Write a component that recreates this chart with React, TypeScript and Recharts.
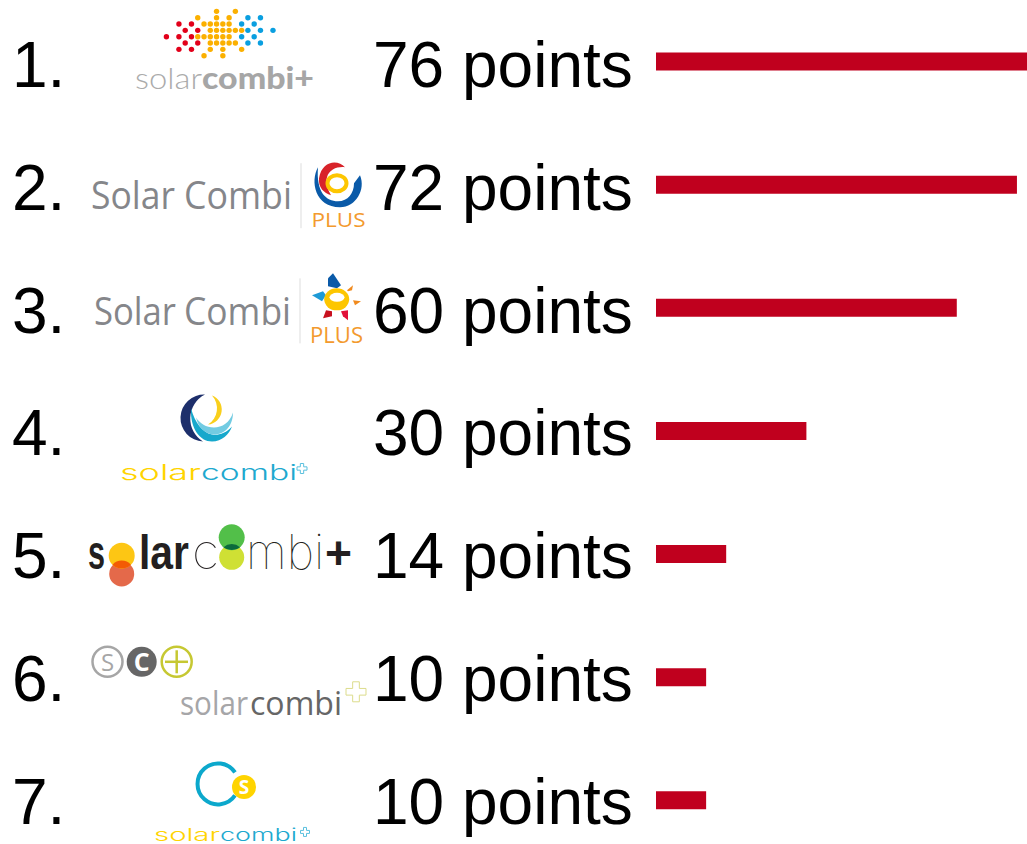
import { BarChart, Bar, XAxis, YAxis } from "recharts";

const ranks = ["1.", "2.", "3.", "4.", "5.", "6.", "7."];
const points = [76, 72, 60, 30, 14, 10, 10];
const rows = ranks.map((rank, i) => ({ rank, points: points[i] }));

const BAR_COLOR = "#c0001e";
const LABEL_FONT = '"Liberation Sans", Arial, sans-serif';

// dot matrix of the first logo, r = red, o = orange, b = blue
const dotRows = [
  "........o..o......",
  ".....o..o.o..b.b..",
  "..r.r.ooooo.b.b...",
  "...r.r.oooooob.b.b",
  "r.r.roooooo.b.b...",
  "...r.r.ooooo.b.b..",
  "..r.r..o.o..o.....",
  "......o..o........",
];
const dotColors: Record<string, string> = { r: "#e2001a", o: "#fbb000", b: "#0a9fe0" };

function OutlinePlus({ x, y, s, color }: { x: number; y: number; s: number; color: string }) {
  const t = s / 3;
  const d = `M${x - t} ${y - s}h${2 * t}v${s - t}h${s - t}v${2 * t}h${t - s}v${s - t}h${-2 * t}v${t - s}h${t - s}v${-2 * t}h${s - t}z`;
  return <path d={d} fill="none" stroke={color} strokeWidth={1} />;
}

function Logo1() {
  return (
    <g>
      {dotRows.map((row, r) =>
        row.split("").map((c, col) =>
          c === "." ? null : (
            <circle key={`${r}-${col}`} cx={166.4 + col * 6.27} cy={-49.7 + r * 6.33} r={2.7} fill={dotColors[c]} />
          )
        )
      )}
      <text x={135} y={28} fontFamily="Lato" fontWeight={300} fontSize={30} fill="#ababab" textLength={67} lengthAdjust="spacingAndGlyphs">solar</text>
      <text x={202} y={28} fontFamily="Lato" fontWeight={900} fontSize={30} fill="#a6a6a6" textLength={112} lengthAdjust="spacingAndGlyphs">combi+</text>
    </g>
  );
}

function SolarCombiWords({ y, x1, w1, x2, w2 }: { y: number; x1: number; w1: number; x2: number; w2: number }) {
  return (
    <g fontFamily="Open Sans" fontSize={38} fill="#85868a">
      <text x={x1} y={y} textLength={w1} lengthAdjust="spacingAndGlyphs">Solar</text>
      <text x={x2} y={y} textLength={w2} lengthAdjust="spacingAndGlyphs">Combi</text>
    </g>
  );
}

function Logo2() {
  return (
    <g>
      <SolarCombiWords y={25} x1={91} w1={84} x2={184} w2={108} />
      <line x1={301} x2={301} y1={-21} y2={44} stroke="#dddddd" strokeWidth={1} />
      <path d="M318 -17C310 -3 315 23 340 23C356 23 366 5 360 -9L354 -1C354 9 348 17 338 17C326 17 316 8 318 -17z" fill="#0a5aa8" />
      <path d="M345 -17C338 -25 322 -24 319 -6C318 3 324 9 331 11C328 5 325 0 327 -7C329 -15 338 -18 345 -17z" fill="#d8232a" />
      <ellipse cx={337} cy={-1} rx={9.5} ry={8} fill="#ffffff" stroke="#fdc600" strokeWidth={4} />
      <text x={311.5} y={43} fontFamily="Open Sans" fontSize={20} fill="#f39a2e" textLength={54} lengthAdjust="spacingAndGlyphs">PLUS</text>
    </g>
  );
}

function Logo3() {
  return (
    <g>
      <SolarCombiWords y={18} x1={94} w1={82} x2={184} w2={107} />
      <line x1={300} x2={300} y1={-29} y2={36} stroke="#dddddd" strokeWidth={1} />
      <path d="M333 -34L341 -22L337 -19L328 -21L328 -29z" fill="#0a5aa8" />
      <path d="M312 -12L323 -16L326 -12L322 -6z" fill="#1e9ad6" />
      <path d="M347 -17L353 -22L352 -17L348 -16z" fill="#f08a1e" />
      <path d="M353 -7L361 -6L355 -2z" fill="#f08a1e" />
      <path d="M326 3L323 11L332 9L332 4z" fill="#c8101e" />
      <path d="M341 4L348 3L348 13L343 9z" fill="#e2103a" />
      <ellipse cx={336.7} cy={-8} rx={12.5} ry={11} fill="#fdc600" />
      <ellipse cx={337} cy={-10} rx={7.5} ry={4.5} fill="#ffffff" />
      <text x={310} y={36} fontFamily="Open Sans" fontSize={21} fill="#f39a2e" textLength={53} lengthAdjust="spacingAndGlyphs">PLUS</text>
    </g>
  );
}

function WideSolarCombi({ x, y, w1, w2, size }: { x: number; y: number; w1: number; w2: number; size: number }) {
  return (
    <g fontFamily="Inter" fontWeight={300} fontSize={size}>
      <text x={x} y={y} fill="#ffd400" textLength={w1} lengthAdjust="spacingAndGlyphs">solar</text>
      <text x={x + w1} y={y} fill="#1ea9cf" textLength={w2} lengthAdjust="spacingAndGlyphs">combi</text>
    </g>
  );
}

function Logo4() {
  return (
    <g>
      <path d="M205 -36A23.5 23.5 0 0 0 203 11A27 27 0 0 1 205 -36z" fill="#1d2f6b" />
      <path d="M212 -35A15 15 0 0 1 208 -6A19 19 0 0 0 212 -35z" fill="#f9cf1c" />
      <path d="M191 -22C190 -2 200 11 212 11C222 11 229 4 232 -4C226 3 218 5 212 4C202 2 195 -8 191 -22z" fill="#16a8cc" />
      <path d="M196 -13C198 -3 206 4 214 4C226 4 233 -6 233 -18C230 -8 222 -3 214 -3C206 -3 200 -7 196 -13z" fill="#72cbe2" />
      <WideSolarCombi x={120} y={49} w1={81} w2={96} size={22} />
      <OutlinePlus x={302} y={38} s={5} color="#5bc0de" />
    </g>
  );
}

function Logo5() {
  return (
    <g fill="#231f20">
      <text x={88} y={15} fontFamily={LABEL_FONT} fontWeight={700} fontSize={48} textLength={17} lengthAdjust="spacingAndGlyphs">s</text>
      <text transform="translate(139 15) scale(0.85 1)" fontFamily={LABEL_FONT} fontWeight={700} fontSize={48}>lar</text>
      <text x={192} y={15} fontFamily="Inter" fontWeight={100} fontSize={48} textLength={27} lengthAdjust="spacingAndGlyphs">c</text>
      <text x={246} y={15} fontFamily="Inter" fontWeight={100} fontSize={48} textLength={78} lengthAdjust="spacingAndGlyphs">mbi</text>
      <text x={325} y={15} fontFamily={LABEL_FONT} fontWeight={700} fontSize={46} textLength={27} lengthAdjust="spacingAndGlyphs">+</text>
      <circle cx={121.7} cy={20.3} r={12.5} fill="#e4694a" />
      <circle cx={121.7} cy={2} r={13} fill="#fdc614" />
      <path d="M112.5 11A13 13 0 0 0 130.9 11A12.5 12.5 0 0 0 112.5 11z" fill="#f35b04" />
      <circle cx={231.7} cy={3.7} r={12.5} fill="#cfe034" />
      <circle cx={231.7} cy={-16.3} r={13} fill="#52bf49" />
      <path d="M223.5 -6.5A13 13 0 0 0 240 -6.5A12.5 12.5 0 0 0 223.5 -6.5z" fill="#0b6b3c" />
    </g>
  );
}

function Logo6() {
  return (
    <g>
      <circle cx={107.5} cy={-15} r={15} fill="none" stroke="#a6a6a6" strokeWidth={2.5} />
      <text x={107.5} y={-6} textAnchor="middle" fontFamily="Open Sans" fontSize={24} fill="#a6a6a6">S</text>
      <circle cx={141.7} cy={-15} r={15} fill="#666666" />
      <text x={141.7} y={-6} textAnchor="middle" fontFamily="Open Sans" fontWeight={700} fontSize={25} fill="#ffffff">C</text>
      <circle cx={176.7} cy={-15} r={15} fill="none" stroke="#c6c832" strokeWidth={2.5} />
      <line x1={165} x2={188} y1={-15} y2={-15} stroke="#c6c832" strokeWidth={2.5} />
      <line x1={176.7} x2={176.7} y1={-26.5} y2={-3.5} stroke="#c6c832" strokeWidth={2.5} />
      <text x={180} y={38} fontFamily="Open Sans" fontSize={33} fill="#a6a6a8" textLength={68} lengthAdjust="spacingAndGlyphs">solar</text>
      <text x={250} y={38} fontFamily="Open Sans" fontSize={33} fill="#666666" textLength={92} lengthAdjust="spacingAndGlyphs">combi</text>
      <OutlinePlus x={356} y={15} s={10} color="#dcdc8c" />
    </g>
  );
}

function Logo7() {
  return (
    <g>
      <path d="M235 -27.5A20.5 20.5 0 1 0 235 -4.5" fill="none" stroke="#0ca8cc" strokeWidth={4} />
      <circle cx={244} cy={-13} r={12} fill="#ffd400" />
      <text x={244} y={-6} textAnchor="middle" fontFamily="Open Sans" fontWeight={700} fontSize={19} fill="#ffffff">S</text>
      <WideSolarCombi x={154} y={41} w1={66} w2={77} size={17} />
      <OutlinePlus x={305} y={32} s={4.5} color="#5bc0de" />
    </g>
  );
}

const logos = [Logo1, Logo2, Logo3, Logo4, Logo5, Logo6, Logo7];

function RowTick({ y, index }: any) {
  const Logo = logos[index];
  // big text rows are spaced a touch tighter than the bars in the original
  const baseline = 26 - index * 0.4;
  return (
    <g transform={`translate(0 ${y})`}>
      <text x={12} y={baseline} fontFamily={LABEL_FONT} fontSize={64} fill="#000000">{ranks[index]}</text>
      <Logo />
      <text x={373} y={baseline} fontFamily={LABEL_FONT} fontSize={64} fill="#000000">{`${points[index]} points`}</text>
    </g>
  );
}

export default function App() {
  return (
    <div style={{ position: "absolute", left: 0, top: 0, width: 1027, height: 844, overflow: "hidden", background: "#ffffff" }}>
      {/* plot runs past the page on the right and bottom, same crop as the original */}
      <BarChart width={1037} height={862} data={rows} layout="vertical" margin={{ top: -0.5, right: 0, bottom: 0.5, left: 0 }}>
        <XAxis type="number" domain={[0, 76]} hide />
        <YAxis
          type="category"
          dataKey="rank"
          width={656}
          axisLine={false}
          tickLine={false}
          interval={0}
          tick={(props: any) => <RowTick {...props} />}
        />
        <Bar dataKey="points" fill={BAR_COLOR} barSize={18} isAnimationActive={false} />
      </BarChart>
    </div>
  );
}
